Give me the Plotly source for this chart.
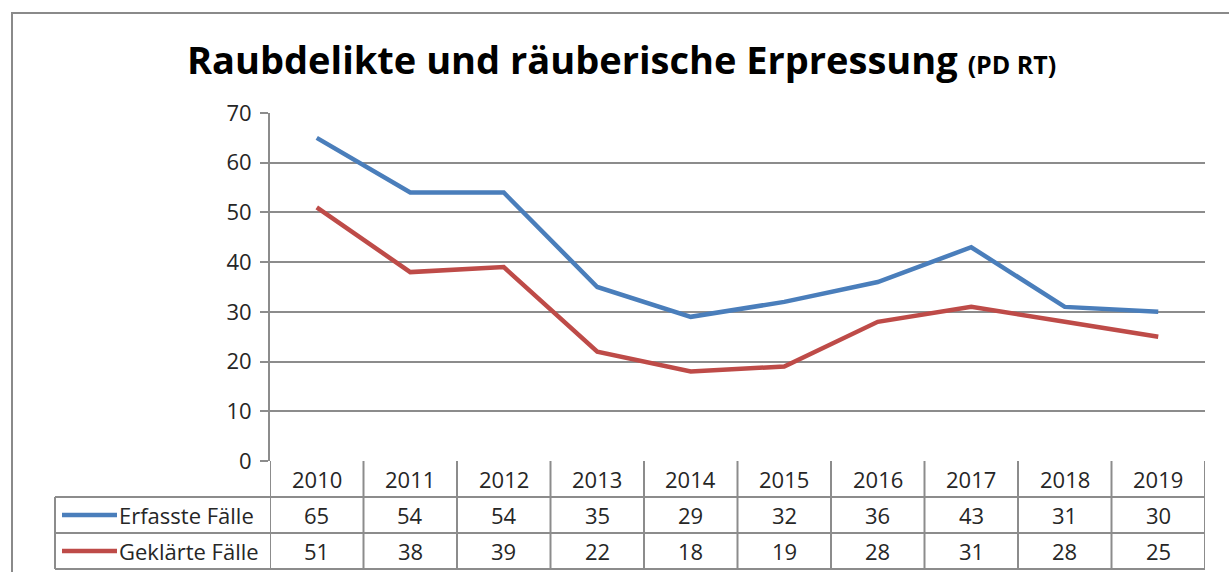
import plotly.graph_objects as go

years = ["2010", "2011", "2012", "2013", "2014", "2015", "2016", "2017", "2018", "2019"]
erfasst = [65, 54, 54, 35, 29, 32, 36, 43, 31, 30]
geklaert = [51, 38, 39, 22, 18, 19, 28, 31, 28, 25]
series_names = ["Erfasste Fälle", "Geklärte Fälle"]
colors = ["#4A7EBB", "#BE4B48"]
title_main = "Raubdelikte und räuberische Erpressung"
title_sub = "(PD RT)"

FONT = "Open Sans"
GRID = "#8C8C8C"
TXT = "#262626"
TS = 22

W, H = 1229, 572
L, R, T, B = 270, 24, 113, 111
pw, ph = W - L - R, H - T - B

def px_x(px):
    return (px - L) / pw

def px_y(py):
    return (H - B - py) / ph

xs = list(range(len(years)))
fig = go.Figure()
for name, vals, col in zip(series_names, [erfasst, geklaert], colors):
    fig.add_trace(go.Scatter(x=xs, y=vals, mode="lines", name=name,
                             line=dict(color=col, width=4.5), showlegend=False))

shapes = []
annotations = []

# outer border
shapes.append(dict(type="rect", xref="paper", yref="paper",
                   x0=px_x(12), x1=px_x(1240), y0=px_y(590), y1=px_y(13),
                   line=dict(color="#8A8A8A", width=2), layer="below"))

row_y = [px_y(461), px_y(497), px_y(533), px_y(569)]
for ry in row_y[1:]:
    shapes.append(dict(type="line", xref="paper", yref="paper", x0=px_x(55), x1=1,
                       y0=ry, y1=ry, line=dict(color=GRID, width=2)))
for i in range(len(years) + 1):
    shapes.append(dict(type="line", xref="x", yref="paper", x0=i - 0.5, x1=i - 0.5,
                       y0=row_y[3], y1=row_y[0], line=dict(color=GRID, width=2)))
shapes.append(dict(type="line", xref="paper", yref="paper", x0=px_x(55), x1=px_x(55),
                   y0=row_y[3], y1=row_y[1], line=dict(color=GRID, width=2)))

centers = [(row_y[0] + row_y[1]) / 2, (row_y[1] + row_y[2]) / 2, (row_y[2] + row_y[3]) / 2]
for i, yr in enumerate(years):
    for r, txt in enumerate([yr, str(erfasst[i]), str(geklaert[i])]):
        annotations.append(dict(x=i, y=centers[r], xref="x", yref="paper", text=txt,
                                xanchor="center", yanchor="middle", showarrow=False,
                                font=dict(family=FONT, size=TS, color=TXT)))

for k, (name, col) in enumerate(zip(series_names, colors)):
    yc = centers[k + 1]
    shapes.append(dict(type="line", xref="paper", yref="paper", x0=px_x(62), x1=px_x(117),
                       y0=yc, y1=yc, line=dict(color=col, width=4.5)))
    annotations.append(dict(x=px_x(117), y=yc, xref="paper", yref="paper", text=name,
                            xanchor="left", yanchor="middle", showarrow=False,
                            font=dict(family=FONT, size=TS, color=TXT)))

annotations.append(dict(x=px_x(621), y=px_y(59), xref="paper", yref="paper",
                        xanchor="center", yanchor="middle",
                        text=f"<b>{title_main}</b> <b><span style='font-size:25px'>{title_sub}</span></b>",
                        showarrow=False, font=dict(family=FONT, size=38, color="#000000")))

fig.update_layout(
    width=W, height=H,
    margin=dict(l=L, r=R, t=T, b=B),
    plot_bgcolor="white", paper_bgcolor="white",
    shapes=shapes, annotations=annotations,
    xaxis=dict(range=[-0.5, len(years) - 0.5], showticklabels=False, showgrid=False,
               zeroline=False, showline=False, fixedrange=True),
    yaxis=dict(range=[0, 70], dtick=10, showgrid=True, gridcolor=GRID, gridwidth=2,
               zeroline=False, showline=True, linecolor=GRID, linewidth=2,
               ticks="outside", ticklen=8, tickcolor=GRID, tickwidth=2,
               tickfont=dict(family=FONT, size=TS, color=TXT), ticklabelstandoff=4),
)

fig.write_html("out.html", config={"displayModeBar": False},
               post_script="document.body.style.margin='0';")
